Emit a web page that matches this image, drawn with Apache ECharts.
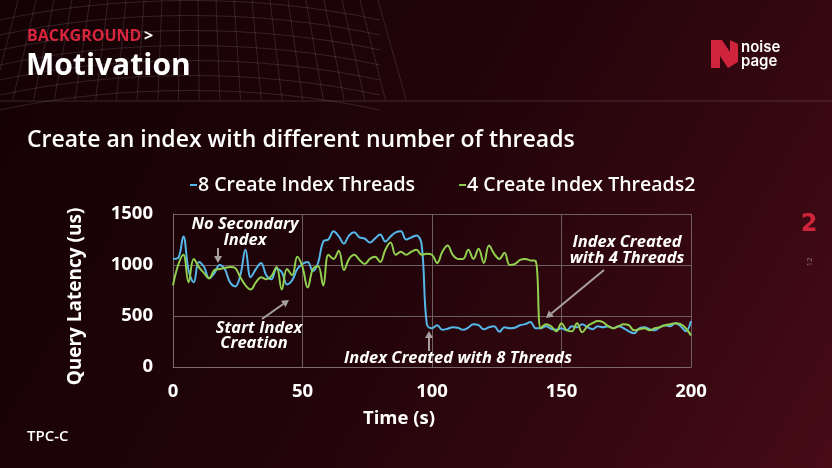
<!DOCTYPE html>
<html>
<head>
<meta charset="utf-8">
<script src="https://cdn.jsdelivr.net/npm/echarts@6/dist/echarts.min.js"></script>
<style>
  html, body { margin: 0; padding: 0; background: #1c0307; }
  #chart { width: 832px; height: 468px; }
</style>
</head>
<body>
<div id="chart"></div>
<script>
// time in seconds, one sample every 2 s
var times = [];
for (var t = 0; t <= 200; t += 2) times.push(t);

var threads8 = [1060, 1070, 1280, 950, 830, 1030, 980, 870, 920, 1000,
    960, 830, 790, 900, 1150, 880, 960, 1020, 900, 860,
    960, 930, 810, 850, 960, 1010, 1030, 940, 1020, 1230,
    1250, 1330, 1280, 1210, 1290, 1320, 1270, 1260, 1220, 1260,
    1300, 1230, 1280, 1320, 1330, 1250, 1270, 1290, 1200, 420,
    380, 410, 365, 375, 390, 385, 365, 385, 420, 410,
    370, 390, 400, 345, 390, 380, 385, 410, 420, 440,
    380, 380, 400, 375, 365, 380, 360, 400, 390, 420,
    390, 370, 400, 390, 400, 380, 400, 380, 350, 330,
    380, 390, 370, 360, 390, 410, 400, 430, 400, 350,
    450];

var threads4 = [800, 1000, 1100, 830, 1060, 980, 920, 870, 950, 960,
    970, 980, 970, 880, 800, 760, 830, 880, 860, 890,
    980, 760, 960, 900, 1080, 980, 780, 960, 990, 800,
    1100, 1060, 1140, 950, 1060, 1100, 1050, 1010, 1060, 1080,
    1030, 1150, 1220, 1100, 1130, 1100, 1130, 1150, 1100, 1110,
    1100, 1020, 1130, 1190, 1100, 1060, 1060, 1150, 1060, 1160,
    1020, 1190, 1110, 1060, 1120, 1000, 1010, 1050, 1060, 1045,
    1040, 380, 420, 400, 350, 430, 360, 350, 430, 340,
    400, 430, 450, 440, 400, 380, 400, 420, 410, 360,
    370, 380, 360, 380, 390, 410, 420, 430, 420, 380,
    310];

var seriesNames = ['8 Create Index Threads', '4 Create Index Threads2'];
var xTicks = [0, 50, 100, 150, 200];
var yTicks = [0, 500, 1000, 1500];

function pairs(vals) {
    var out = [];
    for (var i = 0; i < times.length; i++) out.push([times[i], vals[i]]);
    return out;
}

var annoFont = 'italic 700 16.5px "Open Sans", sans-serif';
var arrowColor = '#a8a0a0';

function arrow(x1, y1, x2, y2) {
    var ang = Math.atan2(y2 - y1, x2 - x1);
    var len = 7, w = 4;
    var bx = x2 - len * Math.cos(ang), by = y2 - len * Math.sin(ang);
    var px = -Math.sin(ang) * w, py = Math.cos(ang) * w;
    return [
        { type: 'line', shape: { x1: x1, y1: y1, x2: bx, y2: by },
          style: { stroke: arrowColor, lineWidth: 2 }, z: 20 },
        { type: 'polygon', shape: { points: [[x2, y2], [bx + px, by + py], [bx - px, by - py]] },
          style: { fill: arrowColor }, z: 20 }
    ];
}

function annoText(x, y, txt) {
    return { type: 'text', x: x, y: y, z: 20,
        style: { text: txt, font: annoFont, fill: '#ffffff', align: 'center', verticalAlign: 'middle' } };
}

// decorative globe grid in the header
var deco = [];
for (var i = 0; i < 22; i++) {
    var xt = 0 + i * 18;
    var xb = 190 + (xt - 190) * 1.15;
    deco.push({ type: 'line', shape: { x1: xt, y1: 0, x2: xb, y2: 100 },
        style: { stroke: 'rgba(255,255,255,0.12)', lineWidth: 1 }, z: 0 });
}
for (var j = 0; j < 7; j++) {
    var yy = 4 + j * 15;
    deco.push({ type: 'bezierCurve',
        shape: { x1: 0, y1: yy + 16, cpx1: 120, cpy1: yy - 10, cpx2: 260, cpy2: yy - 10, x2: 380, y2: yy + 16 },
        style: { stroke: 'rgba(255,255,255,0.12)', lineWidth: 1, fill: null }, z: 0 });
}

var graphics = deco.concat([
    { type: 'line', shape: { x1: 0, y1: 101, x2: 832, y2: 101 },
      style: { stroke: 'rgba(255,255,255,0.15)', lineWidth: 1 }, z: 1 },
    { type: 'text', x: 27, y: 36, style: { text: 'BACKGROUND', font: '700 16px "Open Sans", sans-serif',
      fill: '#d8253e', verticalAlign: 'middle' } },
    { type: 'text', x: 144, y: 36, style: { text: '>', font: '700 16px "Open Sans", sans-serif',
      fill: '#ffffff', verticalAlign: 'middle' } },
    { type: 'text', x: 26, y: 66, style: { text: 'Motivation', font: '700 30px "Open Sans", sans-serif',
      fill: '#ffffff', verticalAlign: 'middle' } },
    { type: 'text', x: 27, y: 140, style: { text: 'Create an index with different number of threads',
      font: '600 23px "Open Sans", sans-serif', fill: '#ffffff', verticalAlign: 'middle' } },
    { type: 'text', x: 27, y: 437, style: { text: 'TPC-C', font: '600 15px "Open Sans", sans-serif',
      fill: '#ffffff', verticalAlign: 'middle' } },
    // logo
    { type: 'polygon', shape: { points: [[711, 40], [722, 40], [730, 52], [730, 40], [738, 44], [738, 62], [728, 68], [720, 56], [720, 68], [711, 68]] },
      style: { fill: '#d0243c' } },
    { type: 'text', x: 741, y: 47, style: { text: 'noise', font: '600 15px Inter, sans-serif', fill: '#ffffff', verticalAlign: 'middle' } },
    { type: 'text', x: 741, y: 61, style: { text: 'page', font: '600 15px Inter, sans-serif', fill: '#ffffff', verticalAlign: 'middle' } },
    { type: 'text', x: 809, y: 225, style: { text: '2', font: '900 24px "DejaVu Sans", sans-serif', fill: '#d0243c', align: 'center', verticalAlign: 'middle' } },
    { type: 'text', x: 810, y: 262, rotation: Math.PI / 2, style: { text: '12', font: '8px "Open Sans", sans-serif', fill: '#8a7a7a', align: 'center', verticalAlign: 'middle' } },
    // annotations
    annoText(245, 224, 'No Secondary'),
    annoText(245, 240, 'Index'),
    annoText(259, 328, 'Start Index'),
    annoText(254, 343, 'Creation'),
    annoText(458, 358, 'Index Created with 8 Threads'),
    annoText(627, 242, 'Index Created'),
    annoText(627, 258, 'with 4 Threads')
]).concat(arrow(218, 248, 218, 263))
  .concat(arrow(262, 319, 289, 300))
  .concat(arrow(429, 351, 429, 331))
  .concat(arrow(604, 270, 546, 318));

var chart = echarts.init(document.getElementById('chart'));
var labelFont = { color: '#ffffff', fontSize: 18.5, fontWeight: 700, fontFamily: '"Open Sans", sans-serif' };

chart.setOption({
    backgroundColor: {
        type: 'linear', x: 0, y: 0, x2: 1, y2: 1,
        colorStops: [{ offset: 0, color: '#140205' }, { offset: 0.5, color: '#22040a' }, { offset: 1, color: '#470b16' }]
    },
    animation: false,
    color: ['#55b7ea', '#92d050'],
    legend: {
        top: 170, left: 185, itemGap: 44,
        icon: 'rect', itemWidth: 7, itemHeight: 2,
        textStyle: { color: '#ffffff', fontSize: 19.5, fontWeight: 600, fontFamily: '"Open Sans", sans-serif', padding: [0, 0, 0, -4] },
        data: seriesNames
    },
    grid: { left: 173, right: 141, top: 214, bottom: 101 },
    xAxis: {
        type: 'value', min: 0, max: 200, interval: 50,
        name: 'Time (s)', nameLocation: 'middle', nameGap: 42,
        nameTextStyle: { color: '#ffffff', fontSize: 18.5, fontWeight: 700, fontFamily: '"Open Sans", sans-serif', padding: [0, 66, 0, 0] },
        axisLine: { show: true, lineStyle: { color: '#7a6a6a' } },
        axisTick: { show: false },
        axisLabel: Object.assign({ margin: 15, customValues: xTicks }, labelFont),
        splitLine: { show: true, lineStyle: { color: '#6e5e60', width: 1 } }
    },
    yAxis: {
        type: 'value', min: 0, max: 1500, interval: 500,
        name: 'Query Latency (us)', nameLocation: 'middle', nameGap: 88,
        nameTextStyle: { color: '#ffffff', fontSize: 19, fontWeight: 700, fontFamily: '"Open Sans", sans-serif', padding: [0, 12, 0, 0] },
        axisLine: { show: true, lineStyle: { color: '#7a6a6a' } },
        axisTick: { show: false },
        axisLabel: Object.assign({ margin: 20, customValues: yTicks, formatter: function (v) { return String(v); } }, labelFont),
        splitLine: { show: true, lineStyle: { color: '#6e5e60', width: 1 } }
    },
    series: [
        { name: seriesNames[0], type: 'line', data: pairs(threads8), smooth: 0.4, showSymbol: false,
          lineStyle: { width: 2 } },
        { name: seriesNames[1], type: 'line', data: pairs(threads4), smooth: 0.4, showSymbol: false,
          lineStyle: { width: 2 } }
    ],
    graphic: graphics
});
</script>
</body>
</html>
